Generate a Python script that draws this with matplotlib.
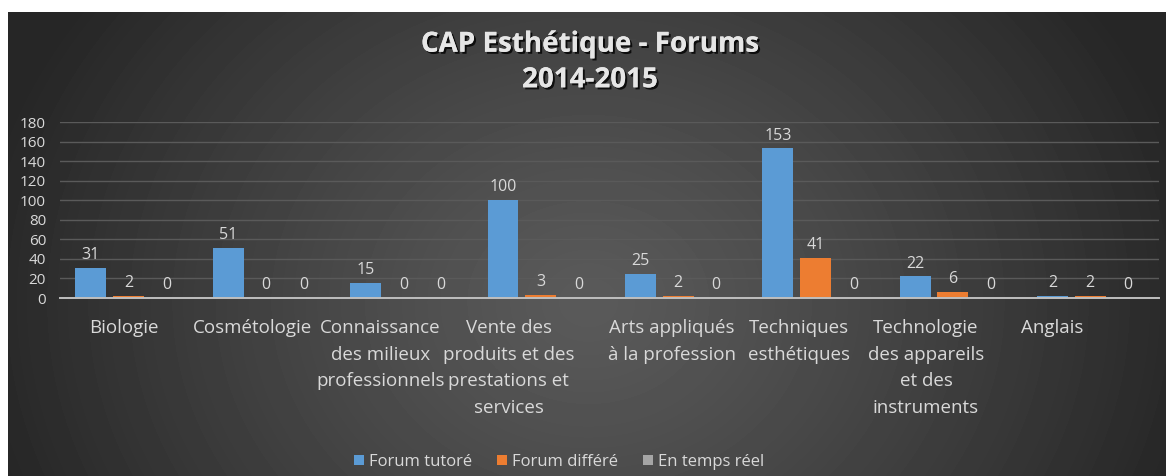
import matplotlib
matplotlib.use("Agg")
import matplotlib.pyplot as plt
import matplotlib.patheffects as pe
import matplotlib.transforms as mtransforms
import numpy as np

categories = [
    "Biologie",
    "Cosmétologie",
    "Connaissance\ndes milieux\nprofessionnels",
    "Vente des\nproduits et des\nprestations et\nservices",
    "Arts appliqués\nà la profession",
    "Techniques\nesthétiques",
    "Technologie\ndes appareils\net des\ninstruments",
    "Anglais",
]
forum_tutore = [31, 51, 15, 100, 25, 153, 22, 2]
forum_differe = [2, 0, 0, 3, 2, 41, 6, 2]
temps_reel = [0, 0, 0, 0, 0, 0, 0, 0]

series = [
    ("Forum tutoré", forum_tutore, "#5B9BD5"),
    ("Forum différé", forum_differe, "#ED7D31"),
    ("En temps réel", temps_reel, "#A5A5A5"),
]

# horizontal nudge (pixels) of the category labels, as Excel placed them
label_shift = [-5, -14, -23, -32, -6, -17, -27, -38]

plt.rcParams["font.family"] = ["Open Sans", "DejaVu Sans"]
TXT = "#d9d9d9"

W, H = 1166, 476
fig = plt.figure(figsize=(W / 100, H / 100), dpi=100)
fig.patch.set_facecolor("white")

# radial gradient background (Excel dark style)
bg = fig.add_axes([8 / W, 0, 1 - 8 / W, (H - 12) / H])
bg.set_axis_off()
yy, xx = np.mgrid[0:464, 0:1158]
d = np.sqrt(((xx - 580) / 620.0) ** 2 + ((yy - 290) / 520.0) ** 2)
d = np.clip(d, 0, 1)
inner, outer = 0x5a / 255, 0x26 / 255
img = inner + (outer - inner) * d ** 1.2
bg.imshow(img, cmap="gray", vmin=0, vmax=1, aspect="auto", interpolation="bilinear")

ax = fig.add_axes([60 / W, 1 - 298 / H, 1099 / W, 176 / H])
ax.set_facecolor("none")

x = np.arange(len(categories))
width = 0.225
step = 0.275
for i, (label, vals, color) in enumerate(series):
    rects = ax.bar(x + (i - 1) * step, vals, width, color=color, label=label, zorder=3)
    for r, v in zip(rects, vals):
        ax.text(
            r.get_x() + r.get_width() / 2,
            r.get_height() + 5,
            str(v),
            ha="center",
            va="bottom",
            color=TXT,
            fontsize=11.5,
        )

ax.set_xlim(-0.5, len(categories) - 0.5)
ax.set_ylim(0, 180)
ax.set_yticks(range(0, 181, 20))
ax.yaxis.grid(True, color="#5a5a5a", linewidth=1, zorder=0)
ax.set_axisbelow(True)
for s in ["top", "right", "left"]:
    ax.spines[s].set_visible(False)
ax.spines["bottom"].set_color("#bfbfbf")
ax.spines["bottom"].set_linewidth(1.4)
ax.spines["bottom"].set_zorder(4)

ax.set_xticks(x)
ax.set_xticklabels(categories, fontsize=13.5, color=TXT, linespacing=1.62, va="top")
ax.tick_params(axis="x", length=0, pad=15)
ax.tick_params(axis="y", length=0, pad=10, labelsize=11, labelcolor=TXT)
for lab, dx in zip(ax.get_xticklabels(), label_shift):
    lab.set_transform(lab.get_transform() + mtransforms.ScaledTranslation(dx / 100, 0, fig.dpi_scale_trans))

fig.text(
    590 / W, 1 - 62 / H, "CAP Esthétique - Forums\n2014-2015",
    ha="center", va="center", fontsize=20, fontweight="bold", color="#e6e6e6",
    linespacing=1.3,
    path_effects=[pe.withSimplePatchShadow(offset=(1.5, -1.5), shadow_rgbFace="black", alpha=0.8), pe.Normal()],
)

leg = fig.legend(
    loc="center", bbox_to_anchor=(559 / W, 1 - 462 / H), ncol=3, frameon=False,
    fontsize=12, handlelength=0.6, handleheight=0.6, handletextpad=0.3, columnspacing=1.5,
)
for t in leg.get_texts():
    t.set_color(TXT)

fig.savefig("out.png", dpi=100)
